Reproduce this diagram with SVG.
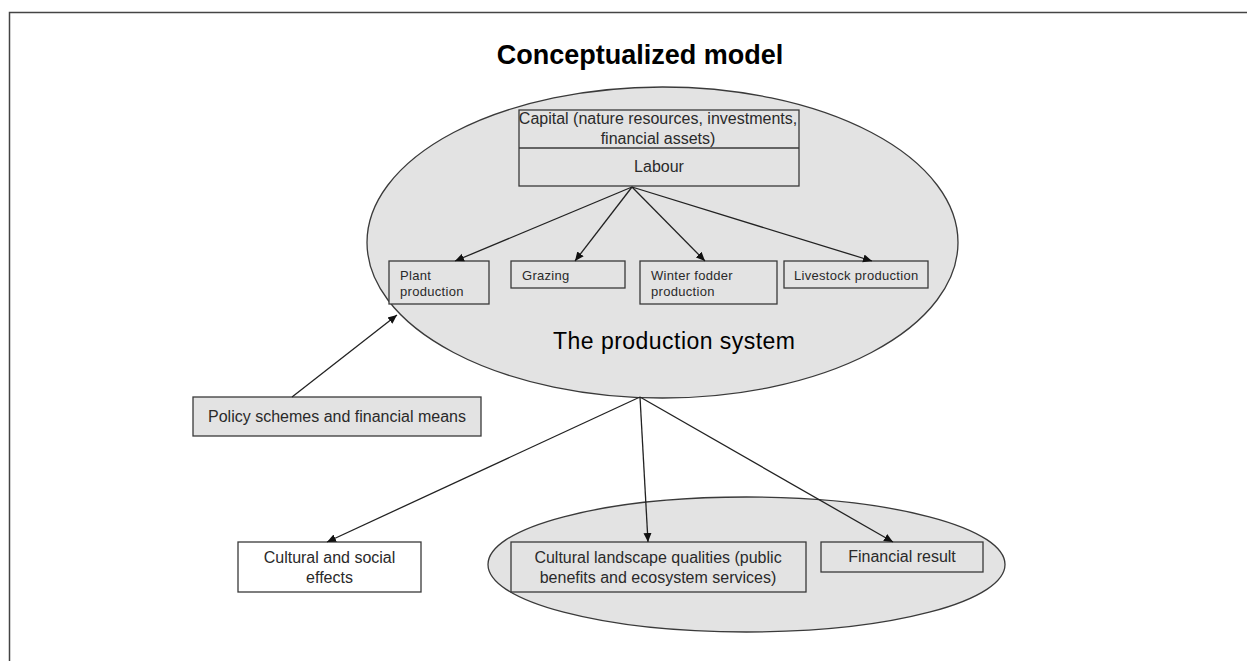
<svg xmlns="http://www.w3.org/2000/svg" width="1247" height="661" viewBox="0 0 1247 661">
<style>
.bx{fill:#e3e3e3;stroke:#3a3a3a;stroke-width:1.3}
.wb{fill:#ffffff;stroke:#3a3a3a;stroke-width:1.3}
.el{fill:#e3e3e3;stroke:#3a3a3a;stroke-width:1.3}
.t{font-family:"Liberation Sans",Arial,sans-serif;fill:#2a2a2a}
.m{font-size:16px;text-anchor:middle}
.s{font-size:13px;letter-spacing:0.3px}
.cn line{stroke:#222;stroke-width:1.3;marker-end:url(#ah)}
</style>
<defs>
<marker id="ah" markerUnits="userSpaceOnUse" markerWidth="10" markerHeight="10" viewBox="0 0 10 10" refX="9" refY="5" orient="auto">
<path d="M0,1 L9,5 L0,9 z" fill="#111"/>
</marker>
</defs>
<rect width="1247" height="661" fill="#ffffff"/>
<path d="M9.5,661 V12.5 H1247" fill="none" stroke="#444" stroke-width="1.5"/>
<text class="t" x="640" y="64" font-size="27" font-weight="bold" text-anchor="middle" fill="#000" style="fill:#000">Conceptualized model</text>

<g id="production-system">
<ellipse class="el" cx="662.5" cy="242.5" rx="295.5" ry="155.5"/>
<text class="t" x="553" y="349" font-size="23" textLength="242" style="fill:#000">The production system</text>
</g>

<g id="capital-labour">
<rect class="bx" x="519" y="110" width="280" height="76"/>
<line x1="519" y1="148" x2="799" y2="148" stroke="#3a3a3a" stroke-width="1.3"/>
<text class="t m" x="658" y="124">Capital (nature resources, investments,</text>
<text class="t m" x="658" y="144">financial assets)</text>
<text class="t m" x="659" y="172">Labour</text>
</g>

<g id="plant-production">
<rect class="bx" x="389" y="261" width="100" height="43"/>
<text class="t s" x="400" y="280">Plant</text>
<text class="t s" x="400" y="296">production</text>
</g>
<g id="grazing">
<rect class="bx" x="511" y="261" width="114" height="27"/>
<text class="t s" x="522" y="280">Grazing</text>
</g>
<g id="winter-fodder">
<rect class="bx" x="640" y="261" width="137" height="43"/>
<text class="t s" x="651" y="280">Winter fodder</text>
<text class="t s" x="651" y="296">production</text>
</g>
<g id="livestock-production">
<rect class="bx" x="784" y="261" width="144" height="27"/>
<text class="t s" x="794" y="280">Livestock production</text>
</g>

<g id="policy">
<rect class="bx" x="193" y="397" width="288" height="39"/>
<text class="t m" x="337" y="422">Policy schemes and financial means</text>
</g>

<g id="cultural-social">
<rect class="wb" x="238" y="542" width="183" height="50"/>
<text class="t m" x="329.5" y="563">Cultural and social</text>
<text class="t m" x="329.5" y="583">effects</text>
</g>

<g id="outcomes">
<ellipse class="el" cx="746.5" cy="564.5" rx="258.5" ry="67.5"/>
</g>
<g id="cultural-landscape">
<rect class="bx" x="511" y="542" width="295" height="50"/>
<text class="t m" x="658" y="563">Cultural landscape qualities (public</text>
<text class="t m" x="658" y="583">benefits and ecosystem services)</text>
</g>
<g id="financial-result">
<rect class="bx" x="821" y="542" width="162" height="30"/>
<text class="t m" x="902" y="562">Financial result</text>
</g>

<g id="connectors" class="cn">
<line x1="632" y1="187" x2="455" y2="261"/>
<line x1="632" y1="187" x2="575" y2="261"/>
<line x1="632" y1="187" x2="705" y2="261"/>
<line x1="632" y1="187" x2="872" y2="261"/>
<line x1="292" y1="397" x2="397" y2="315"/>
<line x1="640" y1="397" x2="327" y2="542"/>
<line x1="640" y1="397" x2="648" y2="542"/>
<line x1="640" y1="397" x2="893" y2="542"/>
</g>
</svg>
